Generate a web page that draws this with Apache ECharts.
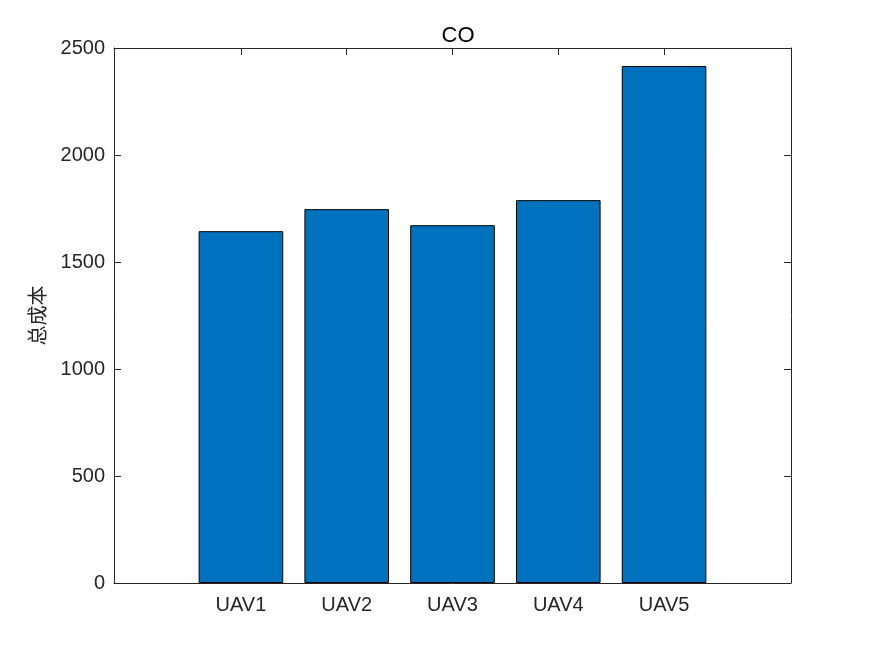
<!DOCTYPE html>
<html>
<head>
<meta charset="utf-8">
<script src="https://cdn.jsdelivr.net/npm/echarts@6/dist/echarts.min.js"></script>
<style>html,body{margin:0;padding:0;background:#fff;}#c{width:875px;height:656px;}</style>
</head>
<body>
<div id="c"></div>
<script>
const categories = ['UAV1', 'UAV2', 'UAV3', 'UAV4', 'UAV5'];
const positions = [1, 2, 3, 4, 5];
const values = [1644, 1747, 1672, 1789, 2416];
const yTicks = [0, 500, 1000, 1500, 2000, 2500];
const titleText = 'CO';
const yName = '总成本';

const chart = echarts.init(document.getElementById('c'));
const txt = '#262626';
const font = 'Liberation Sans, Arial, Helvetica, sans-serif';
const xBase = {
  type: 'value', min: -0.2, max: 6.2, gridIndex: 0,
  splitLine: { show: false },
  axisLine: { show: true, onZero: false, lineStyle: { color: txt, width: 1 } },
  axisTick: { show: true, inside: true, length: 7, customValues: positions, lineStyle: { color: txt } }
};
const yBase = {
  type: 'value', min: 0, max: 2500, interval: 500,
  splitLine: { show: false },
  axisLine: { show: true, onZero: false, lineStyle: { color: txt, width: 1 } },
  axisTick: { show: true, inside: true, length: 7, lineStyle: { color: txt } }
};
chart.setOption({
  animation: false,
  backgroundColor: '#fff',
  title: { text: titleText, left: 453, textAlign: 'center', top: 20,
    textStyle: { fontFamily: font, fontSize: 22, fontWeight: 'normal', color: '#000' } },
  grid: { left: 114, top: 48, right: 84, bottom: 73 },
  xAxis: [
    Object.assign({}, xBase, { position: 'bottom',
      axisLabel: { show: true, customValues: positions, margin: 12,
        formatter: v => categories[positions.indexOf(Math.round(v))] || '',
        fontFamily: font, fontSize: 20, color: txt } }),
    Object.assign({}, xBase, { position: 'top', axisLabel: { show: false } })
  ],
  yAxis: [
    Object.assign({}, yBase, { position: 'left', name: yName, nameLocation: 'middle', nameGap: 67,
      nameRotate: 90, nameMoveOverlap: false,
      nameTextStyle: { fontFamily: 'Noto Sans CJK SC', fontSize: 20, color: txt },
      axisLabel: { show: true, margin: 9, fontFamily: font, fontSize: 20, color: txt,
        formatter: v => yTicks.indexOf(v) >= 0 ? String(v) : '' } }),
    Object.assign({}, yBase, { position: 'right', axisLabel: { show: false } })
  ],
  series: [{
    type: 'bar',
    xAxisIndex: 0, yAxisIndex: 0,
    barWidth: 84.6,
    data: positions.map((p, i) => [p, values[i]]),
    itemStyle: { color: '#0072BD', borderColor: '#000', borderWidth: 1 }
  }]
});
</script>
</body>
</html>
